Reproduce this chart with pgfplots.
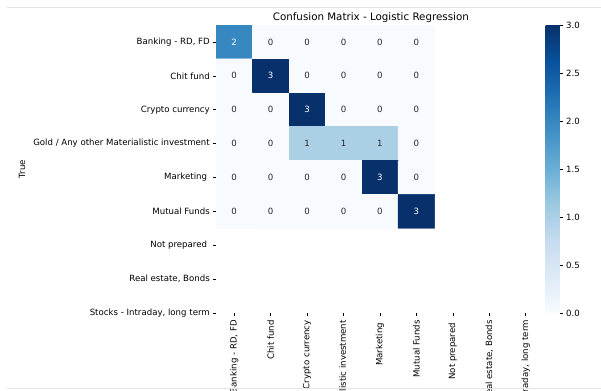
\documentclass[border=0pt]{standalone}
\usepackage{pgfplots}
\pgfplotsset{compat=1.18}
\usepackage{pgfplotstable}
\usepackage{fontspec}
\setmainfont{DejaVu Sans}

\definecolor{annodark}{HTML}{262626}
\definecolor{framegray}{HTML}{E4E4E4}
\newcommand{\tickfont}{\fontsize{8.6}{10}\selectfont}

% confusion matrix: x = predicted column, y = true row, v = count
\pgfplotstableread{
x   y   v
0.5 0.5 2
1.5 0.5 0
2.5 0.5 0
3.5 0.5 0
4.5 0.5 0
5.5 0.5 0
0.5 1.5 0
1.5 1.5 3
2.5 1.5 0
3.5 1.5 0
4.5 1.5 0
5.5 1.5 0
0.5 2.5 0
1.5 2.5 0
2.5 2.5 3
3.5 2.5 0
4.5 2.5 0
5.5 2.5 0
0.5 3.5 0
1.5 3.5 0
2.5 3.5 1
3.5 3.5 1
4.5 3.5 1
5.5 3.5 0
0.5 4.5 0
1.5 4.5 0
2.5 4.5 0
3.5 4.5 0
4.5 4.5 3
5.5 4.5 0
0.5 5.5 0
1.5 5.5 0
2.5 5.5 0
3.5 5.5 0
4.5 5.5 0
5.5 5.5 3
}\cmdata

\begin{document}
\begin{tikzpicture}[x=1pt,y=1pt]
\begin{axis}[
  at={(216pt,77pt)}, anchor=south west,
  scale only axis, width=309.7pt, height=288pt,
  xmin=0, xmax=8.5, ymin=0, ymax=8.5, y dir=reverse,
  enlargelimits=false,
  axis line style={draw=none},
  tick align=outside, major tick length=3pt,
  tick style={black, line width=0.6pt},
  xtick pos=bottom, xticklabel pos=bottom,
  ytick pos=left, yticklabel pos=left,
  xtick={0.5,1.5,2.5,3.5,4.5,5.5,6.5,7.5,8.5},
  ytick={0.5,1.5,2.5,3.5,4.5,5.5,6.5,7.5,8.5},
  xticklabels={{Banking - RD, FD},{Chit fund},{Crypto currency},{Gold / Any other Materialistic investment},{Marketing\ \null},{Mutual Funds},{Not prepared\ \null},{Real estate, Bonds},{Stocks - Intraday, long term}},
  yticklabels={{Banking - RD, FD},{Chit fund},{Crypto currency},{Gold / Any other Materialistic investment},{Marketing\ \null},{Mutual Funds},{Not prepared\ \null},{Real estate, Bonds},{Stocks - Intraday, long term}},
  xticklabel style={rotate=90, anchor=east, font=\tickfont, inner sep=0pt, xshift=-4pt},
  yticklabel style={anchor=east, font=\tickfont, inner sep=0pt, xshift=-3pt},
  title={Confusion Matrix - Logistic Regression},
  title style={at={(axis description cs:0.5,1)}, anchor=base, yshift=-1.8pt, font=\fontsize{10.3}{12}\selectfont},
  ylabel={True},
  ylabel style={at={(axis description cs:-0.6265,0.5)}, anchor=center, font=\tickfont},
  colormap={cmblues}{rgb255(0)=(247,251,255) rgb255(1)=(222,235,247) rgb255(2)=(198,219,239) rgb255(3)=(158,202,225) rgb255(4)=(107,174,214) rgb255(5)=(66,146,198) rgb255(6)=(33,113,181) rgb255(7)=(8,81,156) rgb255(8)=(8,48,107)},
  point meta min=0, point meta max=3,
  colorbar,
  colorbar style={
    at={(parent axis.north east)}, anchor=north west, xshift=11.3pt,
    scale only axis, width=14.5pt, height=288pt,
    ytick={0,0.5,1,1.5,2,2.5,3},
    ytick pos=right, yticklabel pos=right,
    tick align=outside, major tick length=3pt,
    tick style={black, line width=0.6pt},
    axis line style={draw=none},
    yticklabel style={font=\tickfont, inner sep=0pt, xshift=3pt,
      /pgf/number format/.cd, fixed, fixed zerofill, precision=1, assume math mode=true},
  },
]
% heatmap cells
\addplot[matrix plot*, mesh/cols=6, point meta=explicit] table[x=x, y=y, meta=v] {\cmdata};
% cell annotations: dark text on light cells
\addplot[draw=none, mark=none, point meta=explicit,
  restrict expr to domain={\thisrow{v}}{-0.5:1.5},
  nodes near coords, nodes near coords align=center,
  every node near coord/.append style={text=annodark, font=\tickfont, inner sep=0pt,
    /pgf/number format/assume math mode=true}]
  table[x=x, y=y, meta=v] {\cmdata};
% cell annotations: white text on dark cells
\addplot[draw=none, mark=none, point meta=explicit,
  restrict expr to domain={\thisrow{v}}{1.5:3.5},
  nodes near coords, nodes near coords align=center,
  every node near coord/.append style={text=white, font=\tickfont, inner sep=0pt,
    /pgf/number format/assume math mode=true}]
  table[x=x, y=y, meta=v] {\cmdata};
\end{axis}
\draw[framegray, line width=0.8pt] (7,383) -- (601,383);
\draw[framegray, line width=0.8pt] (7,2) -- (601,2);
\pgfresetboundingbox
\path (0,0) rectangle (601,390);
\end{tikzpicture}
\end{document}
